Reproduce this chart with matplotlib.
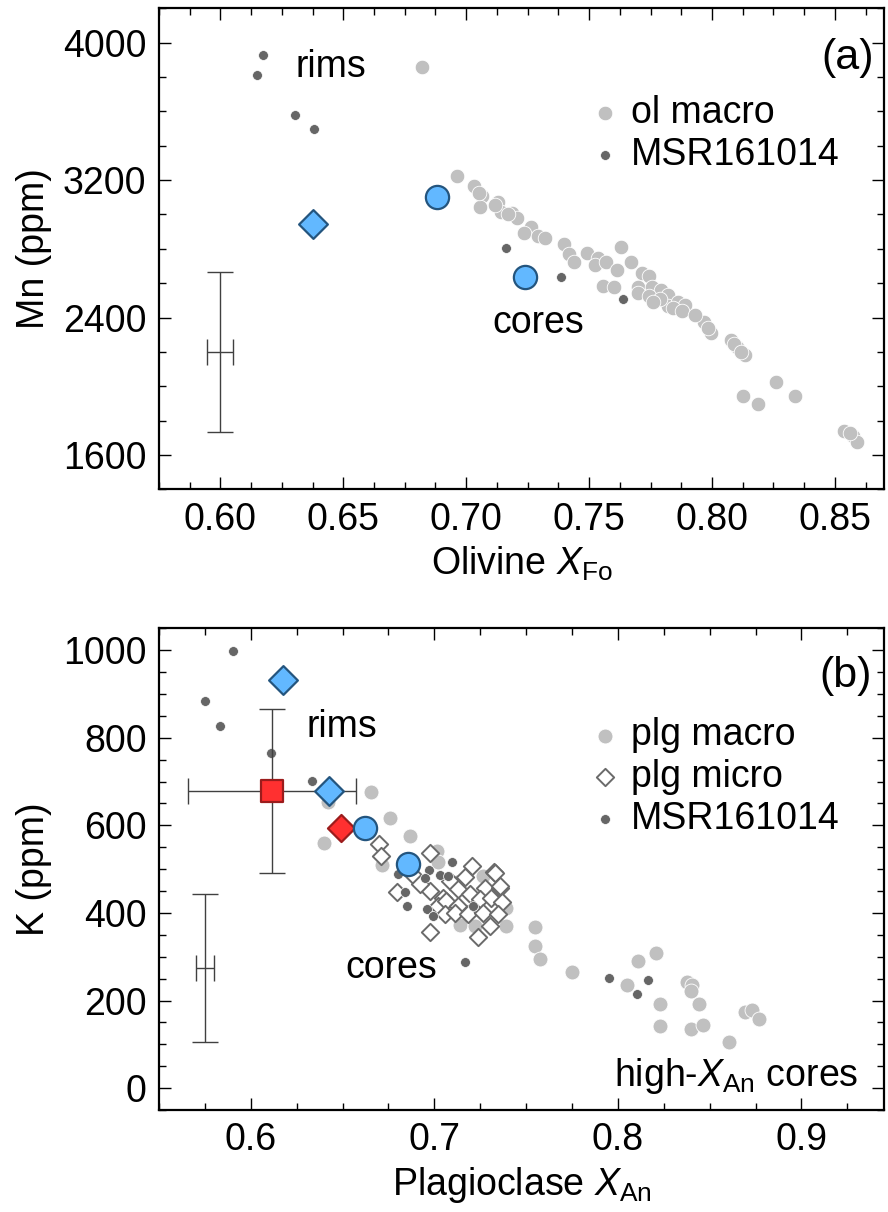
import matplotlib
matplotlib.use("Agg")
import matplotlib.pyplot as plt
from matplotlib.ticker import MultipleLocator

plt.rcParams['font.family'] = ['Liberation Sans', 'DejaVu Sans']
plt.rcParams['mathtext.fontset'] = 'custom'
plt.rcParams['mathtext.rm'] = 'Liberation Sans'
plt.rcParams['mathtext.it'] = 'Liberation Sans:italic'
plt.rcParams['font.size'] = 27

# ---- panel (a): olivine ----
ol_macro_x = [0.6819, 0.6962, 0.7031, 0.7063, 0.7058, 0.7131, 0.7140, 0.7185, 0.7208, 0.7265,
              0.7237, 0.7294, 0.7319, 0.7396, 0.7419, 0.7438, 0.7492, 0.7535, 0.7525, 0.7569,
              0.7631, 0.7669, 0.7612, 0.7558, 0.7602, 0.7717, 0.7742, 0.7698, 0.7756, 0.7794,
              0.7823, 0.7823, 0.7862, 0.7890, 0.7967, 0.7996, 0.8077, 0.8102, 0.8135, 0.8127,
              0.8188, 0.8262, 0.8338, 0.8538, 0.8573, 0.8592, 0.7700, 0.7745, 0.7790, 0.7760,
              0.7840, 0.7880, 0.7930, 0.7985, 0.8090, 0.8120, 0.8560, 0.7170, 0.7054, 0.7116]
ol_macro_mn = [3858, 3225, 3163, 3105, 3042, 3075, 3017, 3007, 2978, 2926,
               2891, 2875, 2861, 2828, 2770, 2725, 2778, 2745, 2706, 2725,
               2809, 2725, 2676, 2585, 2579, 2657, 2641, 2579, 2575, 2563,
               2530, 2466, 2491, 2472, 2375, 2307, 2268, 2229, 2180, 1943,
               1894, 2024, 1941, 1742, 1713, 1674, 2540, 2525, 2505, 2490,
               2455, 2440, 2415, 2340, 2245, 2200, 1725, 3000, 3124, 3056]

msr_ol_x = [0.6175, 0.6148, 0.6304, 0.6379, 0.7163, 0.7385, 0.7640]
msr_ol_mn = [3928, 3813, 3578, 3498, 2803, 2634, 2505]

ol_rim_x = [0.6377]
ol_rim_mn = [2943]
ol_core_x = [0.6881, 0.7238]
ol_core_mn = [3099, 2634]

ol_err = (0.600, 2200, 0.0053, 465)   # x, y, xerr, yerr

# ---- panel (b): plagioclase ----
plg_macro_x = [0.6657, 0.6421, 0.6757, 0.6870, 0.6399, 0.7015, 0.6715, 0.7020, 0.7121, 0.7266,
               0.7393, 0.7139, 0.7221, 0.7393, 0.7548, 0.7548, 0.7575, 0.7748, 0.8052, 0.8112,
               0.8206, 0.8375, 0.8403, 0.8399, 0.8227, 0.8440, 0.8230, 0.8399, 0.8462, 0.8603,
               0.8690, 0.8729, 0.8767]
plg_macro_k = [676, 653, 616, 576, 559, 542, 509, 516, 470, 485,
               412, 372, 370, 370, 367, 324, 294, 264, 236, 290,
               309, 243, 235, 222, 193, 193, 141, 136, 144, 105,
               173, 179, 157]

plg_micro_x = [0.6697, 0.6711, 0.6975, 0.7203, 0.7326, 0.6799, 0.6975, 0.7085, 0.7166, 0.7048,
               0.7130, 0.7194, 0.7276, 0.7357, 0.7021, 0.7066, 0.7130, 0.7248, 0.7311, 0.7370,
               0.7057, 0.7112, 0.7184, 0.7266, 0.7348, 0.7303, 0.6975, 0.7239, 0.6884, 0.6921,
               0.7331, 0.7357]
plg_micro_k = [557, 529, 538, 508, 494, 447, 450, 473, 483, 435,
               454, 443, 458, 458, 416, 428, 416, 431, 435, 424,
               397, 401, 397, 401, 397, 370, 357, 344, 486, 466,
               492, 462]

msr_plg_x = [0.5902, 0.5748, 0.5830, 0.6111, 0.6335, 0.6803, 0.6970, 0.7030, 0.7099, 0.6948,
             0.6839, 0.6853, 0.6962, 0.6993, 0.7212, 0.7075, 0.7169, 0.7952, 0.8166, 0.8106]
msr_plg_k = [999, 885, 828, 766, 701, 489, 499, 486, 517, 479,
             447, 416, 408, 393, 415, 485, 289, 251, 248, 216]

plg_rim_x = [0.6175, 0.6426]
plg_rim_k = [933, 678]
plg_core_x = [0.6621, 0.6857]
plg_core_k = [593, 512]
red_sq = (0.6117, 678, 0.0457, 187)   # x, y, xerr, yerr
red_dia_x = [0.6489]
red_dia_k = [594]

plg_err = (0.5748, 275, 0.0049, 169)

GRAY = '#c0c0c0'
DARK = '#666666'
BLUE = '#62b8ff'
BLUE_E = '#24557e'
RED = '#ff3030'
RED_E = '#9b1c1c'

fig = plt.figure(figsize=(8.88, 12.12), dpi=100)
ax1 = fig.add_axes([159 / 888, 1 - 489.3 / 1212, 725 / 888, 481 / 1212])
ax2 = fig.add_axes([159 / 888, 1 - 1110 / 1212, 725 / 888, 481.7 / 1212])


def style(ax, xmaj, xmin, ymaj, ymin):
    ax.xaxis.set_major_locator(MultipleLocator(xmaj))
    ax.xaxis.set_minor_locator(MultipleLocator(xmin))
    ax.yaxis.set_major_locator(MultipleLocator(ymaj))
    ax.yaxis.set_minor_locator(MultipleLocator(ymin))
    ax.tick_params(which='both', direction='in', top=True, right=True, width=1.0)
    ax.tick_params(which='major', length=8.5, pad=9)
    ax.tick_params(which='minor', length=4.8)
    for s in ax.spines.values():
        s.set_linewidth(1.6)


# panel (a)
ax1.errorbar(ol_err[0], ol_err[1], xerr=ol_err[2], yerr=ol_err[3], fmt='none',
             ecolor='#404040', elinewidth=1, capsize=9.5, capthick=1)
ax1.scatter(ol_macro_x, ol_macro_mn, s=110, c=GRAY, edgecolors='white', linewidths=0.6,
            label='ol macro', zorder=2)
ax1.scatter(msr_ol_x, msr_ol_mn, s=50, c=DARK, edgecolors='white', linewidths=0.5,
            label='MSR161014', zorder=3)
ax1.scatter(ol_rim_x, ol_rim_mn, marker='D', s=215, c=BLUE, edgecolors=BLUE_E, linewidths=1.6, zorder=4)
ax1.scatter(ol_core_x, ol_core_mn, marker='o', s=280, c=BLUE, edgecolors=BLUE_E, linewidths=1.6, zorder=4)

ax1.text(0.6304, 3801, 'rims', ha='left', va='baseline')
ax1.text(0.7294, 2307, 'cores', ha='center', va='baseline')
ax1.text(0.866, 3912, '(a)', ha='right', va='center', fontsize=31)

ax1.set_xlim(0.575, 0.870)
ax1.set_ylim(1400, 4200)
style(ax1, 0.05, 0.0125, 800, 200)
ax1.xaxis.set_major_formatter(plt.FormatStrFormatter('%.2f'))
ax1.set_xlabel('Olivine $X_{\\mathrm{Fo}}$', labelpad=5)
ax1.set_ylabel('Mn (ppm)', labelpad=8)
ax1.legend(loc='upper left', bbox_to_anchor=(0.599, 0.82), frameon=False, borderpad=0,
           borderaxespad=0, handlelength=0.6, handletextpad=0.4, labelspacing=0.15,
           scatterpoints=1)

# panel (b)
ax2.errorbar(plg_err[0], plg_err[1], xerr=plg_err[2], yerr=plg_err[3], fmt='none',
             ecolor='#404040', elinewidth=1, capsize=9.5, capthick=1)
ax2.scatter(plg_macro_x, plg_macro_k, s=115, c=GRAY, edgecolors='white', linewidths=0.6,
            label='plg macro', zorder=2)
ax2.scatter(plg_micro_x, plg_micro_k, marker='D', s=78, c='white', edgecolors='#6a6a6a',
            linewidths=1.4, label='plg micro', zorder=3)
ax2.scatter(msr_plg_x, msr_plg_k, s=50, c=DARK, edgecolors='white', linewidths=0.5,
            label='MSR161014', zorder=4)
ax2.errorbar(red_sq[0], red_sq[1], xerr=red_sq[2], yerr=red_sq[3], fmt='none',
             ecolor='#404040', elinewidth=1, capsize=9.5, capthick=1, zorder=4)
ax2.scatter(red_sq[0], red_sq[1], marker='s', s=240, c=RED, edgecolors=RED_E, linewidths=1.6, zorder=5)
ax2.scatter(red_dia_x, red_dia_k, marker='D', s=190, c=RED, edgecolors=RED_E, linewidths=1.6, zorder=5)
ax2.scatter(plg_rim_x, plg_rim_k, marker='D', s=215, c=BLUE, edgecolors=BLUE_E, linewidths=1.6, zorder=5)
ax2.scatter(plg_core_x, plg_core_k, marker='o', s=280, c=BLUE, edgecolors=BLUE_E, linewidths=1.6, zorder=5)

ax2.text(0.6302, 802, 'rims', ha='left', va='baseline')
ax2.text(0.6764, 252, 'cores', ha='center', va='baseline')
ax2.text(0.931, 4, 'high-$X_{\\mathrm{An}}$ cores', ha='right', va='baseline')
ax2.text(0.9385, 941, '(b)', ha='right', va='center', fontsize=31)

ax2.set_xlim(0.55, 0.945)
ax2.set_ylim(-50, 1050)
style(ax2, 0.1, 0.025, 200, 50)
ax2.set_xlabel('Plagioclase $X_{\\mathrm{An}}$', labelpad=5)
ax2.set_ylabel('K (ppm)', labelpad=8)
ax2.legend(loc='upper left', bbox_to_anchor=(0.599, 0.815), frameon=False, borderpad=0,
           borderaxespad=0, handlelength=0.6, handletextpad=0.4, labelspacing=0.15,
           scatterpoints=1)

fig.savefig('out.png', dpi=100)
